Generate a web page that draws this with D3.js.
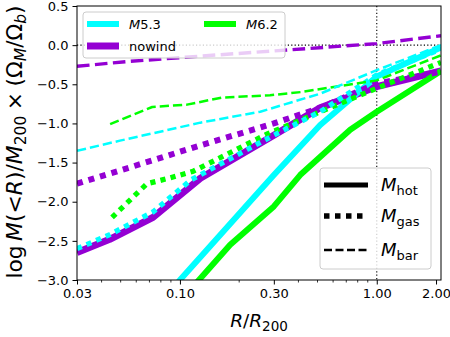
<!DOCTYPE html>
<html>
<head>
<meta charset="utf-8">
<script src="https://cdn.jsdelivr.net/npm/d3@7"></script>
<style>
  html, body { margin: 0; padding: 0; background: #fff; }
  svg { display: block; font-family: "DejaVu Sans", sans-serif; }
</style>
</head>
<body>
<svg id="chart" width="450" height="337"></svg>
<script>
// ---------------- data ----------------
const models = ["M5.3", "M6.2", "nowind"];
const modelColors = ["#00ffff", "#00ff00", "#9400d3"];
const xTickValues = [0.03, 0.10, 0.30, 1.00, 2.00];
const xTickLabels = ["0.03", "0.10", "0.30", "1.00", "2.00"];
const xMinorTicks = [0.04, 0.05, 0.06, 0.07, 0.08, 0.09, 0.2, 0.4, 0.5, 0.6, 0.7, 0.8, 0.9];
const yTickValues = [0.5, 0.0, -0.5, -1.0, -1.5, -2.0, -2.5, -3.0];

// M5.3
const rHotM53 = [0.09, 0.10, 0.30, 0.516, 1.0, 2.12];
const hotM53  = [-3.15, -3.0, -1.66, -1.02, -0.40, -0.03];
const rGasM53 = [0.03, 0.044, 0.073, 0.114, 0.30, 0.516, 1.0, 2.12];
const gasM53  = [-2.60, -2.42, -2.13, -1.72, -1.15, -0.85, -0.38, -0.05];
const rBarM53 = [0.03, 0.0496, 0.127, 0.256, 0.516, 1.0, 2.12];
const barM53  = [-1.35, -1.22, -0.99, -0.85, -0.62, -0.32, 0.0];

// M6.2
const rHotM62 = [0.11, 0.125, 0.18, 0.30, 0.408, 0.733, 1.0, 2.12];
const hotM62  = [-3.16, -3.0, -2.55, -2.06, -1.66, -1.08, -0.85, -0.33];
const rGasM62 = [0.0452, 0.068, 0.088, 0.117, 0.28, 1.0, 2.12];
const gasM62  = [-2.20, -1.77, -1.70, -1.61, -1.13, -0.55, -0.22];
const rBarM62 = [0.0442, 0.0723, 0.1086, 0.163, 0.287, 0.41, 1.0, 2.12];
const barM62  = [-1.01, -0.79, -0.76, -0.67, -0.64, -0.60, -0.45, -0.13];

// nowind
const rHotNW = [0.03, 0.044, 0.073, 0.127, 0.30, 0.516, 1.0, 2.12];
const hotNW  = [-2.65, -2.48, -2.20, -1.70, -1.15, -0.80, -0.53, -0.33];
const rGasNW = [0.03, 0.073, 0.127, 0.30, 0.516, 1.0, 2.12];
const gasNW  = [-1.77, -1.47, -1.28, -1.00, -0.80, -0.49, -0.34];
const rBarNW = [0.03, 0.054, 0.127, 0.363, 1.0, 2.12];
const barNW  = [-0.27, -0.21, -0.14, -0.06, 0.02, 0.12];

// ---------------- layout ----------------
const svg = d3.select("#chart");
const L = 77, R = 441, T = 6, B = 280;
const x = d3.scaleLog().domain([0.03, 2.12]).range([L, R]);
const y = d3.scaleLinear().domain([-3.0, 0.5]).range([B, T]);

svg.append("defs").append("clipPath").attr("id", "clip")
  .append("rect").attr("x", L).attr("y", T).attr("width", R - L).attr("height", B - T);

const plot = svg.append("g").attr("clip-path", "url(#clip)");

// reference lines
plot.append("line").attr("x1", L).attr("x2", R).attr("y1", y(0)).attr("y2", y(0))
  .attr("stroke", "#000").attr("stroke-width", 1.1).attr("stroke-dasharray", "1.2,2.2");
plot.append("line").attr("x1", x(1)).attr("x2", x(1)).attr("y1", T).attr("y2", B)
  .attr("stroke", "#000").attr("stroke-width", 1.1).attr("stroke-dasharray", "1.2,2.2");

const lineGen = d3.line().x(d => x(d[0])).y(d => y(d[1]));
const zip = (a, b) => a.map((v, i) => [v, b[i]]);

const series = [
  // hot (solid)
  { r: rHotNW,  v: hotNW,  c: 2, kind: "hot" },
  { r: rHotM62, v: hotM62, c: 1, kind: "hot" },
  { r: rHotM53, v: hotM53, c: 0, kind: "hot" },
  // gas (dotted)
  { r: rGasNW,  v: gasNW,  c: 2, kind: "gas" },
  { r: rGasM62, v: gasM62, c: 1, kind: "gas" },
  { r: rGasM53, v: gasM53, c: 0, kind: "gas" },
  // bar (dashed)
  { r: rBarNW,  v: barNW,  c: 2, kind: "bar" },
  { r: rBarM62, v: barM62, c: 1, kind: "bar" },
  { r: rBarM53, v: barM53, c: 0, kind: "bar" },
];

function styleFor(kind, c) {
  const big = c === 2;
  if (kind === "hot") return { w: big ? 7 : 6, dash: null };
  if (kind === "gas") { const w = big ? 6 : 5.2; return { w: w, dash: w + "," + w }; }
  const w = big ? 3.4 : 2.5;
  return { w: w, dash: (3.7 * w).toFixed(2) + "," + (1.6 * w).toFixed(2) };
}

series.forEach(s => {
  const st = styleFor(s.kind, s.c);
  const p = plot.append("path")
    .attr("d", lineGen(zip(s.r, s.v)))
    .attr("fill", "none")
    .attr("stroke", modelColors[s.c])
    .attr("stroke-width", st.w)
    .attr("stroke-linejoin", "round")
    .attr("stroke-linecap", "butt");
  if (st.dash) p.attr("stroke-dasharray", st.dash);
});

// ---------------- axes ----------------
const xAxis = d3.axisBottom(x).tickValues(xTickValues)
  .tickFormat((d, i) => xTickLabels[i]).tickSize(4.5).tickPadding(4);
const gx = svg.append("g").attr("transform", `translate(0,${B})`).call(xAxis);
gx.select(".domain").remove();
gx.selectAll("line").attr("stroke", "#000").attr("stroke-width", 1);
gx.selectAll("text").attr("font-size", 13).attr("fill", "#000").attr("font-family", "DejaVu Sans");
svg.append("g").selectAll("line").data(xMinorTicks).join("line")
  .attr("x1", d => x(d)).attr("x2", d => x(d)).attr("y1", B).attr("y2", B + 2.5)
  .attr("stroke", "#000").attr("stroke-width", 0.8);

const yAxis = d3.axisLeft(y).tickValues(yTickValues)
  .tickFormat(d => d3.format(".1f")(d).replace("-", "\u2212")).tickSize(4.5).tickPadding(4);
const gy = svg.append("g").attr("transform", `translate(${L},0)`).call(yAxis);
gy.select(".domain").remove();
gy.selectAll("line").attr("stroke", "#000").attr("stroke-width", 1);
gy.selectAll("text").attr("font-size", 13).attr("fill", "#000").attr("font-family", "DejaVu Sans");

// frame
svg.append("rect").attr("x", L).attr("y", T).attr("width", R - L).attr("height", B - T)
  .attr("fill", "none").attr("stroke", "#000").attr("stroke-width", 1);

// ---------------- axis labels ----------------
const xl = svg.append("text").attr("x", (L + R) / 2).attr("y", 327)
  .attr("text-anchor", "middle").attr("font-size", 18.5);
xl.append("tspan").attr("font-style", "italic").text("R");
xl.append("tspan").text("/");
xl.append("tspan").attr("font-style", "italic").text("R");
xl.append("tspan").attr("font-size", 13.5).attr("dy", 4).text("200");

const yl = svg.append("text").attr("transform", `translate(22,142) rotate(-90)`)
  .attr("text-anchor", "middle").attr("font-size", 19);
const sub = 13.5;
yl.append("tspan").text("log\u2009");
yl.append("tspan").attr("font-style", "italic").text("M");
yl.append("tspan").text("(<");
yl.append("tspan").attr("font-style", "italic").text("R");
yl.append("tspan").text(")/");
yl.append("tspan").attr("font-style", "italic").text("M");
yl.append("tspan").attr("font-size", sub).attr("dy", 4).text("200");
yl.append("tspan").attr("dy", -4).text("\u2005\u00d7\u2005(\u03a9");
yl.append("tspan").attr("font-size", sub).attr("font-style", "italic").attr("dy", 4).text("M");
yl.append("tspan").attr("dy", -4).text("/\u03a9");
yl.append("tspan").attr("font-size", sub).attr("font-style", "italic").attr("dy", 4).text("b");
yl.append("tspan").attr("dy", -4).text(")");
// fit the label to the vertical extent seen in the reference
{
  const len = yl.node().getComputedTextLength();
  const target = 278;
  const scale = Math.max(0.9, Math.min(1.15, target / len));
  yl.attr("font-size", 19 * scale);
  yl.selectAll("tspan").each(function () {
    const fs = d3.select(this).attr("font-size");
    if (fs) d3.select(this).attr("font-size", fs * scale);
  });
}

// ---------------- legend 1 (models) ----------------
const lg1 = svg.append("g");
lg1.append("rect").attr("x", 83).attr("y", 12).attr("width", 202).attr("height", 46)
  .attr("rx", 3).attr("fill", "#fff").attr("fill-opacity", 0.8)
  .attr("stroke", "#ccc").attr("stroke-width", 1);
const lg1Pos = [[87, 24], [204, 24], [87, 46]];
models.forEach((m, i) => {
  const [px, py] = lg1Pos[i];
  lg1.append("line").attr("x1", px).attr("x2", px + 32).attr("y1", py).attr("y2", py)
    .attr("stroke", modelColors[i]).attr("stroke-width", i === 2 ? 7 : 6);
  const t = lg1.append("text").attr("x", px + 42).attr("y", py + 4.5).attr("font-size", 13);
  if (m.startsWith("M")) {
    t.append("tspan").attr("font-style", "italic").text("M");
    t.append("tspan").text(m.slice(1));
  } else t.text(m);
});

// ---------------- legend 2 (components) ----------------
const comps = [["hot", null, 5], ["gas", "5.5,5.5", 5.5], ["bar", "8,3.5", 2.6]];
const lg2 = svg.append("g");
lg2.append("rect").attr("x", 320).attr("y", 168).attr("width", 111).attr("height", 101)
  .attr("rx", 3).attr("fill", "#fff").attr("fill-opacity", 0.8)
  .attr("stroke", "#ccc").attr("stroke-width", 1);
const lg2Y = [185, 216, 250];
comps.forEach((c, i) => {
  const l = lg2.append("line").attr("x1", 324).attr("x2", 368).attr("y1", lg2Y[i]).attr("y2", lg2Y[i])
    .attr("stroke", "#000").attr("stroke-width", c[2]);
  if (c[1]) l.attr("stroke-dasharray", c[1]);
  const t = lg2.append("text").attr("x", 381).attr("y", lg2Y[i] + 6).attr("font-size", 18);
  t.append("tspan").attr("font-style", "italic").text("M");
  t.append("tspan").attr("font-size", 13).attr("dy", 4).text(c[0]);
});
</script>
</body>
</html>
